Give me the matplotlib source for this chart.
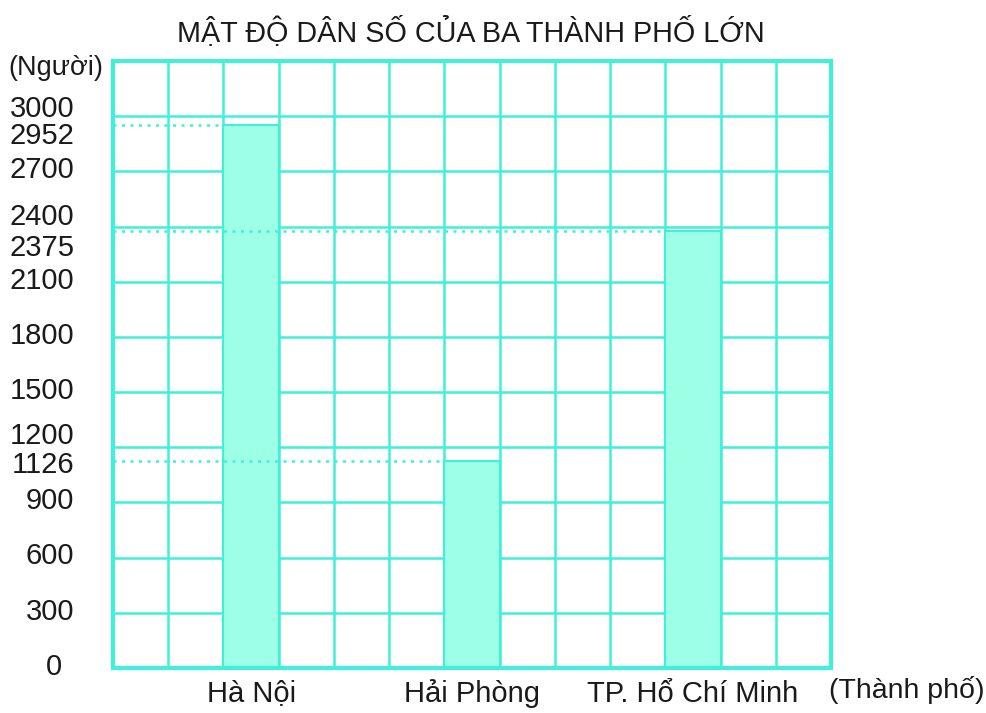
import numpy as np
import matplotlib.pyplot as plt
from matplotlib.transforms import ScaledTranslation

plt.rcParams['font.family'] = ['Liberation Sans', 'DejaVu Sans']

cities = ['Hà Nội', 'Hải Phòng', 'TP. Hổ Chí Minh']
density = [2952, 1126, 2375]
slots = [2, 6, 10]          # grid column where each bar starts
base_ticks = [0, 300, 600, 900, 1200, 1500, 1800, 2100, 2400, 2700, 3000]

grid_color = '#40F0D8'
bar_color = '#9DFFE6'
text_color = '#1a1a1a'

fig = plt.figure(figsize=(9.86, 7.13), dpi=100)
ax = fig.add_axes([0.1146, 0.0631, 0.7282, 0.8513])

n_cols = 13
ax.set_xlim(0, n_cols)
ax.set_ylim(0, 3300)

# grid
for x in range(n_cols + 1):
    ax.axvline(x, color=grid_color, lw=1.8, zorder=1)
for y in np.arange(0, 3301, 300):
    ax.axhline(y, color=grid_color, lw=1.8, zorder=1)

# bars
x_centers = [s + 0.5 for s in slots]
ax.bar(x_centers, density, width=1.0, color=bar_color, edgecolor=grid_color,
       linewidth=1.5, zorder=2)

# dotted guide lines to the bar tops
for s, v in zip(slots, density):
    ax.plot([0, s], [v, v], color=grid_color, lw=1.8, ls=(0, (1.2, 2.2)), zorder=3)

for sp in ax.spines.values():
    sp.set_color(grid_color)
    sp.set_linewidth(3)

ticks = sorted(base_ticks + density)
ax.set_yticks(ticks)
ax.set_yticklabels([str(t) for t in ticks], fontsize=21, color=text_color)
ax.tick_params(axis='y', length=0, pad=28)
for lab in ax.get_yticklabels():
    lab.set_horizontalalignment('right')
ax.set_xticks([])

# nudge crowded labels apart
shift = {3000: 7, 2952: -6, 2400: 9, 2375: -10, 1200: 10, 1126: -1}
for t, lab in zip(ticks, ax.get_yticklabels()):
    dy = shift.get(t, 3)
    dx = -9 if t == 0 else 0
    lab.set_transform(lab.get_transform() + ScaledTranslation(dx / 72, dy / 72, fig.dpi_scale_trans))

for xc, name in zip(x_centers, cities):
    ax.text(xc, -0.042, name, transform=ax.get_xaxis_transform(), ha='center',
            va='center', fontsize=21, color=text_color)

fig.text(0.478, 0.955, 'MẬT ĐỘ DÂN SỐ CỦA BA THÀNH PHỐ LỚN', ha='center',
         va='center', fontsize=20.7, color=text_color)
fig.text(0.008, 0.905, '(Người)', ha='left', va='center', fontsize=19.5, color=text_color)
fig.text(0.998, 0.032, '(Thành phố)', ha='right', va='center', fontsize=20.5, color=text_color)

fig.savefig('out.png', dpi=100, facecolor='white')
